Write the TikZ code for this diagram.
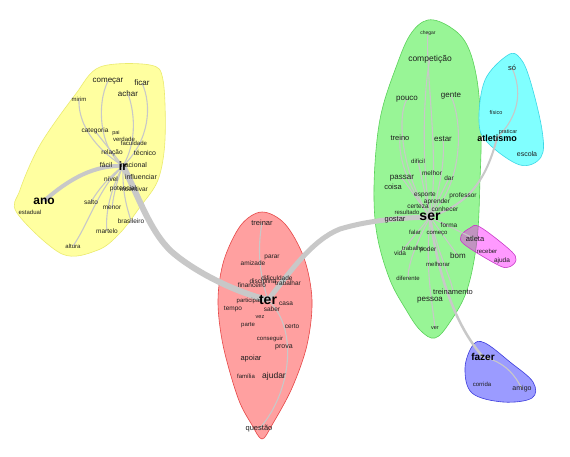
\documentclass[tikz,border=0pt]{standalone}
\usepackage{fontspec}
\setmainfont{Liberation Sans}
\newcommand\wsz[1]{\fontsize{#1}{#1}\selectfont}
\definecolor{yfill}{RGB}{255,255,160}
\definecolor{ybord}{RGB}{235,235,110}
\definecolor{rfill}{RGB}{255,160,160}
\definecolor{rbord}{RGB}{230,70,70}
\definecolor{gfill}{RGB}{152,245,150}
\definecolor{gbord}{RGB}{90,210,90}
\definecolor{cfill}{RGB}{128,255,255}
\definecolor{cbord}{RGB}{60,215,230}
\definecolor{mbase}{RGB}{255,0,255}
\definecolor{mbord}{RGB}{200,60,200}
\definecolor{bfill}{RGB}{155,155,255}
\definecolor{bbord}{RGB}{60,60,220}
\definecolor{edgec}{RGB}{200,200,200}
\definecolor{txt}{RGB}{30,30,30}
\pgfdeclarelayer{bg}
\pgfdeclarelayer{mid}
\pgfsetlayers{bg,mid,main}
\tikzset{
  wd/.style={inner sep=0pt,text=txt,font=\wsz{#1}},
  wb/.style={inner sep=0pt,text=black,font=\bfseries\wsz{#1}},
  ed/.style={draw=edgec,line width=1.1pt},
  edk/.style={draw=edgec,line width=#1},
  blob/.style={line width=0.6pt}
}
\begin{document}
\begin{tikzpicture}[x=1pt,y=-1pt]
\useasboundingbox (0,0) rectangle (570,457);
% ---------- words: yellow
\node[wd=8] (comecar) at (108,81) {começar};
\node[wd=8] (ficar) at (142,83) {ficar};
\node[wd=8] (achar) at (128,94) {achar};
\node[wd=6] (mirim) at (79,99) {mirim};
\node[wd=6.5] (categoria) at (95,131) {categoria};
\node[wd=5.5] (pai) at (116,133) {pai};
\node[wd=6] (verdade) at (124,139) {verdade};
\node[wd=6] (faculdade) at (134,143) {faculdade};
\node[wd=6.5] (relacao) at (112,153) {relação};
\node[wd=7] (tecnico) at (145,153) {técnico};
\node[wd=7] (facil) at (106,165) {fácil};
\node[wd=7] (nacional) at (134,165) {nacional};
\node[wb=12] (ir) at (123,166) {ir};
\node[wd=7] (influenciar) at (141,177) {influenciar};
\node[wd=6.5] (nivel) at (111,179) {nível};
\node[wd=6.5] (potencial) at (123,189) {potencial};
\node[wd=6.5] (incentivar) at (134,189) {incentivar};
\node[wb=12] (ano) at (44,201) {ano};
\node[wd=6.5] (salto) at (91,202) {salto};
\node[wd=6] (estadual) at (30,212) {estadual};
\node[wd=6.5] (menor) at (112,208) {menor};
\node[wd=6.5] (brasileiro) at (131,221) {brasileiro};
\node[wd=6.5] (martelo) at (107,231) {martelo};
\node[wd=6] (altura) at (73,246) {altura};
% ---------- words: red
\node[wd=7.5] (treinar) at (262,223) {treinar};
\node[wd=6.5] (parar) at (272,257) {parar};
\node[wd=6.5] (amizade) at (253,263) {amizade};
\node[wd=6.5] (dificuldade) at (277,278) {dificuldade};
\node[wd=6.5] (disciplina) at (263,282) {disciplina};
\node[wd=6.5] (financeiro) at (252,285) {financeiro};
\node[wd=6.5] (trabalhar) at (288,283) {trabalhar};
\node[wd=6] (participar) at (249,301) {participar};
\node[wb=14] (ter) at (268,300) {ter};
\node[wd=6.5] (casa) at (286,304) {casa};
\node[wd=6.5] (tempo) at (233,309) {tempo};
\node[wd=6.5] (saber) at (272,309) {saber};
\node[wd=5.5] (vez) at (260,317) {vez};
\node[wd=6] (parte) at (248,325) {parte};
\node[wd=6.5] (certo) at (292,326) {certo};
\node[wd=6] (conseguir) at (270,339) {conseguir};
\node[wd=7] (prova) at (284,347) {prova};
\node[wd=7.5] (apoiar) at (251,359) {apoiar};
\node[wd=6] (familia) at (246,376) {família};
\node[wd=8.5] (ajudar) at (274,376) {ajudar};
\node[wd=7.5] (questao) at (259,429) {questão};
% ---------- words: green
\node[wd=5] (chegar) at (428,33) {chegar};
\node[wd=8.5] (competicao) at (430,59) {competição};
\node[wd=8] (pouco) at (407,99) {pouco};
\node[wd=8] (gente) at (451,96) {gente};
\node[wd=7.5] (treino) at (400,138) {treino};
\node[wd=8] (estar) at (443,139) {estar};
\node[wd=6] (dificil) at (418,161) {difícil};
\node[wd=6.5] (melhor) at (432,173) {melhor};
\node[wd=6.5] (dar) at (449,178) {dar};
\node[wd=8] (passar) at (402,178) {passar};
\node[wd=7.5] (coisa) at (393,187) {coisa};
\node[wd=6.5] (esporte) at (425,195) {esporte};
\node[wd=6.5] (professor) at (463,196) {professor};
\node[wd=6.5] (aprender) at (437,202) {aprender};
\node[wd=6.5] (certeza) at (418,206) {certeza};
\node[wd=6.5] (conhecer) at (445,209) {conhecer};
\node[wd=6] (resultado) at (407,212) {resultado};
\node[wb=14] (ser) at (430,217) {ser};
\node[wd=7.5] (gostar) at (395,220) {gostar};
\node[wd=6.5] (forma) at (449,225) {forma};
\node[wd=6] (falar) at (415,232) {falar};
\node[wd=6] (comeco) at (437,234) {começo};
\node[wd=6] (trabalho) at (413,248) {trabalho};
\node[wd=6.5] (poder) at (428,250) {poder};
\node[wd=6.5] (vida) at (400,253) {vida};
\node[wd=8] (bom) at (458,256) {bom};
\node[wd=6] (melhorar) at (438,264) {melhorar};
\node[wd=6] (diferente) at (408,278) {diferente};
\node[wd=7.5] (treinamento) at (453,292) {treinamento};
\node[wd=8] (pessoa) at (430,300) {pessoa};
\node[wd=5.5] (ver) at (435,328) {ver};
% ---------- words: cyan
\node[wd=7.5] (so) at (512,68) {só};
\node[wd=5.5] (fisico) at (496,113) {físico};
\node[wd=5.5] (praticar) at (508,132) {praticar};
\node[wb=9] (atletismo) at (497,138) {atletismo};
\node[wd=7] (escola) at (527,154) {escola};
% ---------- words: magenta
\node[wd=7.5] (atleta) at (475,239) {atleta};
\node[wd=6] (receber) at (487,251) {receber};
\node[wd=6.5] (ajuda) at (502,261) {ajuda};
% ---------- words: blue
\node[wb=10] (fazer) at (483,357) {fazer};
\node[wd=6] (corrida) at (482,384) {corrida};
\node[wd=7] (amigo) at (522,389) {amigo};
\coordinate (k1) at (172,252);
\coordinate (k2) at (340,229);
% ---------- clusters
\begin{pgfonlayer}{bg}
\fill[white] (0,0) rectangle (570,457);
\filldraw[blob,fill=yfill,draw=ybord] plot[smooth cycle,tension=0.55] coordinates {(100,67) (150,65) (163,80) (165,140) (158,180) (140,207) (120,233) (98,250) (62,254) (17,213) (20,190) (40,145) (75,95)};
\filldraw[blob,fill=rfill,draw=rbord] plot[smooth cycle,tension=0.55] coordinates {(262,212) (285,224) (304,258) (312,300) (307,345) (292,388) (272,425) (262,439) (252,425) (238,398) (223,345) (218,300) (224,260) (241,225)};
\filldraw[blob,fill=gfill,draw=gbord] plot[smooth cycle,tension=0.6] coordinates {(428,20) (450,27) (467,45) (477,80) (481,130) (480,180) (477,240) (467,290) (450,322) (435,338) (420,330) (405,308) (390,280) (378,240) (374,200) (376,150) (382,110) (395,70) (410,35)};
\filldraw[blob,fill=cfill,draw=cbord] plot[smooth cycle,tension=0.6] coordinates {(508,55) (520,58) (530,80) (542,130) (541,157) (520,165) (488,143) (479,122) (485,80)};
\filldraw[blob,fill=mbase,fill opacity=0.4,draw=mbord] plot[smooth cycle,tension=0.6] coordinates {(470,228) (480,227) (510,250) (516,260) (509,267) (498,265) (465,245) (461,236)};
\filldraw[blob,fill=bfill,draw=bbord] plot[smooth cycle,tension=0.6] coordinates {(473,345) (485,343) (510,362) (533,382) (532,398) (503,402) (472,393) (465,368)};
\end{pgfonlayer}
% ---------- connectors
\begin{pgfonlayer}{mid}
\draw[edk=6pt] (ir.center) .. controls (138,195) and (150,232) .. (k1) .. controls (195,272) and (235,292) .. (ter.center);
\draw[edk=5pt] (ter.center) .. controls (290,272) and (312,240) .. (k2) .. controls (370,220) and (400,218) .. (ser.center);
\draw[edk=4pt] (ir.center) .. controls (95,165) and (70,178) .. (ano.center);
\draw[ed] (ir.center) .. controls (100,150) and (96,105) .. (comecar.center);
\draw[ed] (ir.center) .. controls (150,140) and (152,105) .. (ficar.center);
\draw[ed] (ir.center) .. controls (138,140) and (134,110) .. (achar.center);
\draw[ed] (ir.center) .. controls (90,145) and (78,120) .. (mirim.center);
\draw[ed] (ir.center) .. controls (100,185) and (88,225) .. (altura.center);
\draw[ed] (ir.center) .. controls (110,190) and (105,215) .. (martelo.center);
\draw[ed] (ir.center) .. controls (115,185) and (113,200) .. (menor.center);
\draw[ed] (ir.center) .. controls (122,195) and (128,210) .. (brasileiro.center);
\draw[ed] (ir.center) .. controls (105,180) and (95,195) .. (salto.center);
\draw[ed] (ir.center) -- (nivel.center);
\draw[ed] (ir.center) -- (categoria.center);
\draw[ed] (ter.center) .. controls (258,270) and (258,245) .. (treinar.center);
\draw[ed] (ter.center) .. controls (300,330) and (290,395) .. (questao.center);
\draw[ed] (ser.center) .. controls (440,160) and (425,70) .. (chegar.center);
\draw[ed] (ser.center) .. controls (420,150) and (425,80) .. (competicao.center);
\draw[ed] (ser.center) .. controls (405,180) and (395,120) .. (pouco.center);
\draw[ed] (ser.center) .. controls (465,180) and (462,120) .. (gente.center);
\draw[ed] (ser.center) .. controls (410,190) and (398,160) .. (treino.center);
\draw[ed] (ser.center) .. controls (440,190) and (445,160) .. (estar.center);
\draw[ed] (ser.center) -- (dificil.center);
\draw[ed] (ser.center) -- (dar.center);
\draw[ed] (ser.center) -- (passar.center);
\draw[ed] (ser.center) .. controls (425,270) and (432,300) .. (ver.center);
\draw[ed] (ser.center) .. controls (415,245) and (408,265) .. (diferente.center);
\draw[ed] (ser.center) .. controls (440,260) and (452,280) .. (treinamento.center);
\draw[ed] (ser.center) -- (vida.center);
\draw[ed] (ser.center) -- (bom.center);
\draw[ed] (ser.center) -- (atleta.center);
\draw[edk=2.5pt] (ser.center) .. controls (438,275) and (455,325) .. (fazer.center);
\draw[edk=2pt] (ser.center) .. controls (465,205) and (485,185) .. (atletismo.center);
\draw[ed] (atletismo.center) .. controls (520,115) and (522,90) .. (so.center);
\draw[ed] (fazer.center) .. controls (505,362) and (515,375) .. (amigo.center);
\end{pgfonlayer}
\end{tikzpicture}
\end{document}
